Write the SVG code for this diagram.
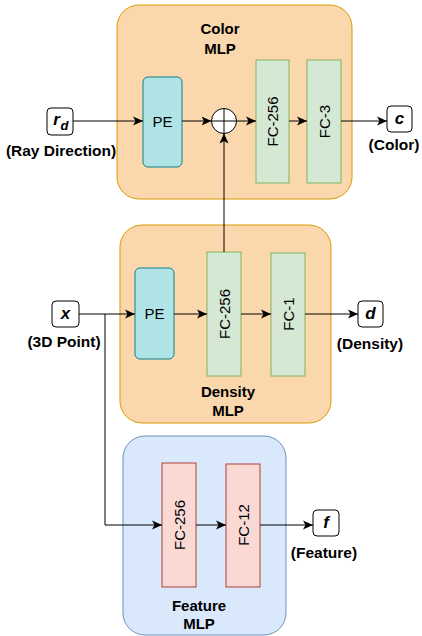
<svg xmlns="http://www.w3.org/2000/svg" width="422" height="636" viewBox="0 0 422 636">
<style>
.mlp{fill:#fad7ac;stroke:#d79b00;stroke-width:1}
.feat{fill:#dae8fc;stroke:#6c8ebf;stroke-width:1}
.pe{fill:#b0e3e6;stroke:#0e8088;stroke-width:1}
.fc{fill:#d5e8d4;stroke:#82b366;stroke-width:1}
.fcr{fill:#fad9d5;stroke:#ae4132;stroke-width:1}
.io{fill:#fff;stroke:#000;stroke-width:1}
.t{font-family:"Liberation Sans",Arial,sans-serif;font-size:15px;fill:#000;text-anchor:middle;dominant-baseline:central}
.b{font-weight:bold}
.l{font-size:15.5px}
.bi{font-weight:bold;font-style:italic;font-size:17px}
.c{fill:none;stroke:#000;stroke-width:1}
</style>
<defs>
<marker id="arr" markerWidth="11" markerHeight="11" refX="10" refY="5.5" orient="auto" markerUnits="userSpaceOnUse">
<path d="M0,1 L10,5.5 L0,10 L2.5,5.5 z" fill="#000"/>
</marker>
</defs>

<g id="color-mlp">
<rect class="mlp" x="117" y="5" width="235" height="194" rx="22"/>
<text class="t b" x="220" y="28">Color</text>
<text class="t b" x="220" y="48">MLP</text>
</g>
<g id="density-mlp">
<rect class="mlp" x="120" y="225" width="211" height="198" rx="22"/>
<text class="t b" x="228" y="391">Density</text>
<text class="t b" x="228" y="410">MLP</text>
</g>
<g id="feature-mlp">
<rect class="feat" x="123" y="436" width="163" height="199" rx="22"/>
<text class="t b" x="199" y="605">Feature</text>
<text class="t b" x="199" y="623">MLP</text>
</g>

<g id="color-pe">
<rect class="pe" x="143" y="77" width="39" height="90" rx="5"/>
<text class="t" x="162.5" y="121">PE</text>
</g>
<g id="color-sum">
<circle cx="224" cy="121" r="12.5" fill="#fff" stroke="#000" stroke-width="1"/>
<path d="M211.5,121 H236.5 M224,108.5 V133.5" stroke="#000" stroke-width="1"/>
</g>
<g id="color-fc256">
<rect class="fc" x="256" y="60" width="33" height="123"/>
<text class="t" transform="translate(272.5,121.5) rotate(-90)">FC-256</text>
</g>
<g id="color-fc3">
<rect class="fc" x="307" y="60" width="34" height="123"/>
<text class="t" transform="translate(324,121.5) rotate(-90)">FC-3</text>
</g>

<g id="density-pe">
<rect class="pe" x="135" y="268" width="39" height="91" rx="5"/>
<text class="t" x="154.5" y="313.5">PE</text>
</g>
<g id="density-fc256">
<rect class="fc" x="207" y="252" width="34" height="124"/>
<text class="t" transform="translate(224,314) rotate(-90)">FC-256</text>
</g>
<g id="density-fc1">
<rect class="fc" x="271" y="253" width="34" height="123"/>
<text class="t" transform="translate(288,314) rotate(-90)">FC-1</text>
</g>

<g id="feature-fc256">
<rect class="fcr" x="162" y="463" width="34" height="124"/>
<text class="t" transform="translate(179,525) rotate(-90)">FC-256</text>
</g>
<g id="feature-fc12">
<rect class="fcr" x="226" y="464" width="34" height="123"/>
<text class="t" transform="translate(243,525) rotate(-90)">FC-12</text>
</g>

<g id="input-rd">
<rect class="io" x="47" y="108" width="26" height="27" rx="4"/>
<text class="t bi" x="56.5" y="119">r</text>
<text class="t bi" x="64.5" y="125" style="font-size:13px">d</text>
<text class="t b l" x="61" y="150">(Ray Direction)</text>
</g>
<g id="output-c">
<rect class="io" x="387" y="106" width="25" height="26" rx="4"/>
<text class="t bi" x="399.5" y="118.5">c</text>
<text class="t b l" x="394" y="144">(Color)</text>
</g>
<g id="input-x">
<rect class="io" x="52" y="301" width="27" height="26" rx="4"/>
<text class="t bi" x="65.5" y="313.5">x</text>
<text class="t b l" x="64" y="341">(3D Point)</text>
</g>
<g id="output-d">
<rect class="io" x="358" y="301" width="25" height="26" rx="4"/>
<text class="t bi" x="370.5" y="313.5">d</text>
<text class="t b l" x="370" y="343">(Density)</text>
</g>
<g id="output-f">
<rect class="io" x="313" y="510" width="26" height="26" rx="4"/>
<text class="t bi" x="326" y="522.5">f</text>
<text class="t b l" x="324" y="552">(Feature)</text>
</g>

<g id="connectors">
<path class="c" d="M73,121 H143" marker-end="url(#arr)"/>
<path class="c" d="M182,121 H211.5" marker-end="url(#arr)"/>
<path class="c" d="M236.5,121 H256" marker-end="url(#arr)"/>
<path class="c" d="M289,121 H307" marker-end="url(#arr)"/>
<path class="c" d="M341,121 H387" marker-end="url(#arr)"/>
<path class="c" d="M224,252 V133.5" marker-end="url(#arr)"/>
<path class="c" d="M79,314 H135" marker-end="url(#arr)"/>
<path class="c" d="M174,314 H207" marker-end="url(#arr)"/>
<path class="c" d="M241,314 H271" marker-end="url(#arr)"/>
<path class="c" d="M305,314 H358" marker-end="url(#arr)"/>
<path class="c" d="M105,314 V525 H162" marker-end="url(#arr)"/>
<path class="c" d="M196,525 H226" marker-end="url(#arr)"/>
<path class="c" d="M260,525 H313" marker-end="url(#arr)"/>
</g>
</svg>
